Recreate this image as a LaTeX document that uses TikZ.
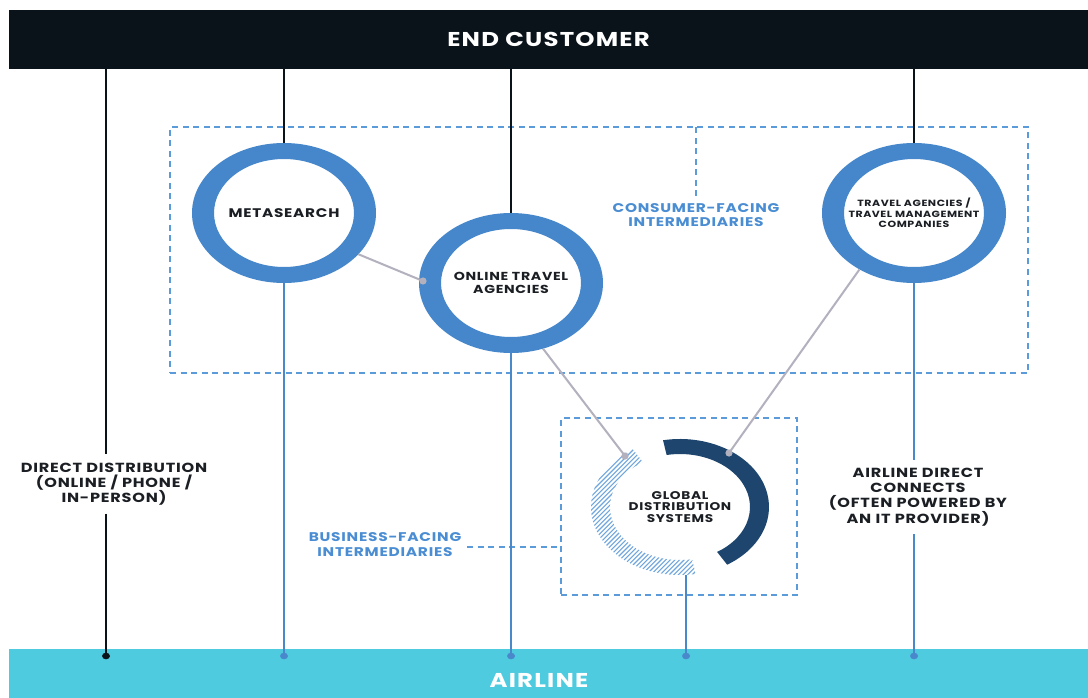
\documentclass[tikz,border=0pt]{standalone}
\usepackage{fontspec}
\setmainfont{Poppins}[FakeStretch=1.22, LetterSpace=6]
\usetikzlibrary{shapes.geometric,calc}

\definecolor{barblack}{HTML}{0A121A}
\definecolor{aircyan}{HTML}{4ECBDF}
\definecolor{ringblue}{HTML}{4587CA}
\definecolor{lineblue}{HTML}{4A88CC}
\definecolor{dashblue}{HTML}{5B9BDA}
\definecolor{greyline}{HTML}{B3B1BE}
\definecolor{navy}{HTML}{1E456E}
\definecolor{hatchblue}{HTML}{6FA6DC}
\definecolor{labelblue}{HTML}{4A8DD3}
\definecolor{txt}{HTML}{1B1F24}

\tikzset{
  bar/.style={rectangle, minimum width=1079, inner sep=0, outer sep=0,
    text=white, font=\bfseries\fontsize{20}{22}\selectfont},
  ring/.style={ellipse, minimum width=184, minimum height=140, inner sep=0,
    outer sep=0, align=center, text=txt},
  dashbox/.style={rectangle, draw=dashblue, line width=2pt,
    dash pattern=on 6pt off 4.5pt, inner sep=0, outer sep=0},
  grouplabel/.style={align=center, text=labelblue, inner sep=0,
    font=\bfseries\fontsize{12.6}{14.5}\selectfont},
  sidelabel/.style={align=center, text=txt, inner xsep=0, inner ysep=8pt,
    font=\bfseries\fontsize{13.2}{15.3}\selectfont},
  blackline/.style={draw=barblack, line width=2pt},
  blueline/.style={draw=lineblue, line width=2pt},
  greylink/.style={draw=greyline, line width=2pt},
  dashlink/.style={draw=dashblue, line width=2pt, dash pattern=on 6pt off 4.5pt},
}

\newcommand{\ringfill}[1]{%
  \fill[ringblue, even odd rule] (#1) ellipse [x radius=92, y radius=70]
    (#1) ellipse [x radius=70, y radius=54];}

\begin{document}
\begin{tikzpicture}[x=1pt, y=-1pt]
\useasboundingbox (0,0) rectangle (1088,698);
\fill[white] (0,0) rectangle (1088,698);

% top and bottom bands
\node[bar, fill=barblack, minimum height=59] (top) at (548.5,39.5) {END CUSTOMER};
\node[bar, fill=aircyan, minimum height=49] (air) at (548.5,673.5) {};
\node[text=white, font=\bfseries\fontsize{20}{22}\selectfont] (airtext) at (539,680) {AIRLINE};

% intermediary groups
\node[dashbox, minimum width=858, minimum height=245] (cbox) at (599,250) {};
\node[dashbox, minimum width=236, minimum height=177] (bbox) at (679,506.5) {};
\node[grouplabel] (clabel) at (696,215) {CONSUMER-FACING\\INTERMEDIARIES};
\node[grouplabel] (blabel) at (385,544.5) {BUSINESS-FACING\\INTERMEDIARIES};
\coordinate (bjoin) at (467,547);
\draw[dashlink] (cbox.north -| clabel) -- ([yshift=4pt]clabel.north);
\draw[dashlink] (bjoin) -- (bjoin -| bbox.west);

% ring centres
\coordinate (cmeta) at (284,213);
\coordinate (cota) at (511,283);
\coordinate (ctma) at (914,213);
\coordinate (cgds) at (680,507);

% side labels
\node[sidelabel] (direct) at (114,484) {DIRECT DISTRIBUTION\\(ONLINE / PHONE /\\IN-PERSON)};
\node[sidelabel] (adc) at (918,497) {AIRLINE DIRECT\\CONNECTS\\(OFTEN POWERED BY\\AN IT PROVIDER)};

% rail positions and end dots
\coordinate (xd) at (106,0);
\coordinate (xg) at (686,0);
\coordinate (dotA) at (106,656);
\coordinate (dotB) at (284,656);
\coordinate (dotC) at (511,656);
\coordinate (dotD) at (686,656);
\coordinate (dotE) at (914,656);

% rings
\ringfill{cmeta}
\ringfill{cota}
\ringfill{ctma}
\node[ring, font=\bfseries\fontsize{12.5}{14}\selectfont] (meta) at (cmeta) {METASEARCH};
\node[ring, font=\bfseries\fontsize{11.6}{12.5}\selectfont] (ota) at (cota) {ONLINE TRAVEL\\AGENCIES};
\node[ring, font=\bfseries\fontsize{9}{10.5}\selectfont] (tma) at (ctma) {TRAVEL AGENCIES /\\TRAVEL MANAGEMENT\\COMPANIES};

% GDS split ring: solid arc and hatched arc
\fill[navy] ($(cgds)+(-101:89 and 68)$) arc[start angle=-101, end angle=58, x radius=89, y radius=68]
  -- ($(cgds)+(58:70 and 53)$) arc[start angle=58, end angle=-101, x radius=70, y radius=53] -- cycle;
\begin{scope}
  \clip ($(cgds)+(-122:89 and 68)$) arc[start angle=-122, end angle=-280, x radius=89, y radius=68]
    -- ($(cgds)+(-280:70 and 53)$) arc[start angle=-280, end angle=-122, x radius=70, y radius=53] -- cycle;
  \foreach \k in {0,...,60}{
    \draw[hatchblue, line width=1.1pt] ($(cgds)+(-260+4.6*\k,110)$) -- ++(220,-220);
  }
\end{scope}
\node[ring, minimum width=178, minimum height=136, font=\bfseries\fontsize{11.2}{11.5}\selectfont] (gds) at (cgds) {GLOBAL\\DISTRIBUTION\\SYSTEMS};

% rails from end customer to airline
\draw[blackline] (top.south -| xd) -- (direct.north -| xd);
\draw[blackline] (direct.south -| xd) -- (dotA);
\draw[blackline] (top.south -| meta) -- (meta.north);
\draw[blueline] (meta.south) -- (dotB);
\draw[blackline] (top.south -| ota) -- (ota.north);
\draw[blueline] (ota.south) -- (dotC);
\draw[blueline] (gds.south -| xg) -- (dotD);
\draw[blackline] (top.south -| tma) -- (tma.north);
\draw[blueline] (tma.south) -- (adc.north -| tma);
\draw[blueline] (adc.south -| tma) -- (dotE);

\fill[barblack] (dotA) ellipse [x radius=4, y radius=3.3];
\foreach \d in {dotB,dotC,dotD,dotE}
  \fill[lineblue] (\d) ellipse [x radius=4, y radius=3.3];

% links between intermediaries
\coordinate (otadot) at (423,281);
\coordinate (hatchdot) at (625,456);
\coordinate (navydot) at (729,453);
\draw[greylink] (meta.-29) -- (otadot);
\draw[greylink] (ota.-64) -- (hatchdot);
\draw[greylink] (tma.-134) -- (navydot);
\foreach \d in {otadot,hatchdot,navydot}
  \fill[greyline] (\d) circle (3.6);
\end{tikzpicture}
\end{document}
